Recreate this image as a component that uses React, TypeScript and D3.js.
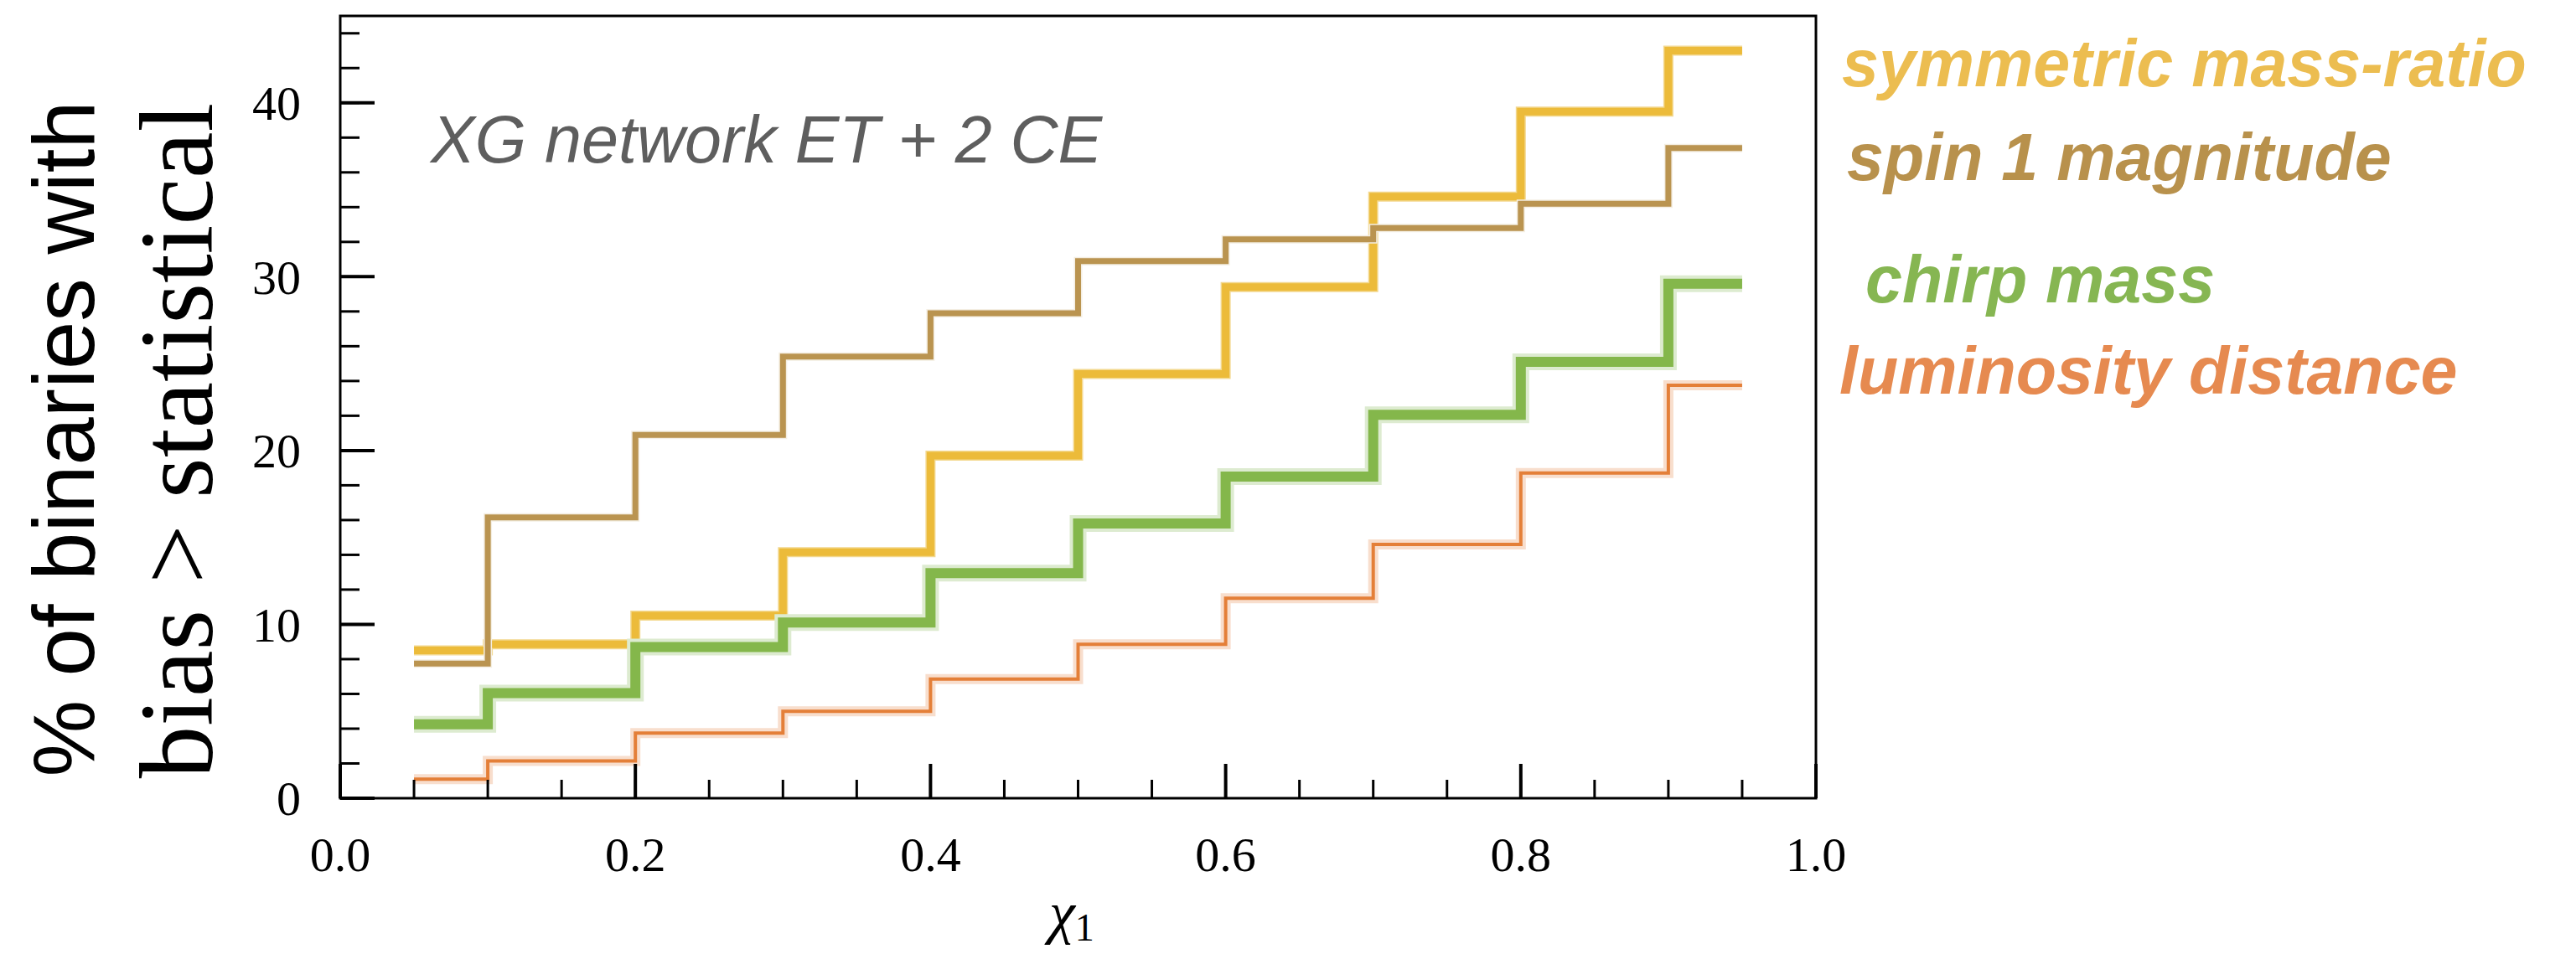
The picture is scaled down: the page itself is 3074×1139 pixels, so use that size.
import React from 'react';
import * as d3 from 'd3';

// Bin centres in chi_1 and the percentage of binaries per bin for each parameter
const chiBins = [0.05, 0.15, 0.25, 0.35, 0.45, 0.55, 0.65, 0.75, 0.85, 0.95];
const symmetricMassRatio = [8.5, 8.85, 10.5, 14.15, 19.7, 24.4, 29.4, 34.6, 39.5, 43.0];
const spin1Magnitude = [7.75, 16.15, 20.9, 25.4, 27.9, 30.9, 32.15, 32.8, 34.2, 37.4];
const chirpMass = [4.25, 6.05, 8.7, 10.1, 12.95, 15.8, 18.5, 22.05, 25.1, 29.6];
const luminosityDistance = [1.1, 2.15, 3.75, 5.0, 6.85, 8.85, 11.5, 14.6, 18.7, 23.75];

const xMajorTicks = [0, 0.2, 0.4, 0.6, 0.8, 1.0];
const xMinorTicks = d3.range(0, 21).map((i) => i * 0.05);
const yMajorTicks = [0, 10, 20, 30, 40];
const yMinorTicks = d3.range(0, 23).map((i) => i * 2);

const seriesNames = ['symmetric mass-ratio', 'spin 1 magnitude', 'chirp mass', 'luminosity distance'];

const W = 3074;
const H = 1139;
const left = 406;
const right = 2167;
const top = 19;
const bottom = 953;

const x = d3.scaleLinear().domain([0, 1]).range([left, right]);
const y = d3.scaleLinear().domain([0, 45]).range([bottom, top]);

const line = d3
  .line<number>()
  .x((_, i) => x(chiBins[i]))
  .y((d) => y(d))
  .curve(d3.curveStep);

const series = [
  { name: seriesNames[0], values: symmetricMassRatio, color: '#EBB933', halo: '#F3D88E', w: 9, hw: 12, op: 0.92, label: '#ECBD50', lx: 2198, ly: 103 },
  { name: seriesNames[1], values: spin1Magnitude, color: '#B68E48', halo: '#F4EEE2', w: 7, hw: 10, op: 0.95, label: '#B8914C', lx: 2204, ly: 215 },
  { name: seriesNames[2], values: chirpMass, color: '#84B74B', halo: '#DDEBD0', w: 12, hw: 20, op: 1, label: '#86B652', lx: 2226, ly: 361 },
  { name: seriesNames[3], values: luminosityDistance, color: '#E47F38', halo: '#F8DECD', w: 4, hw: 12, op: 1, label: '#E68A50', lx: 2195, ly: 470 },
];

export default function App() {
  return (
    <svg
      width={W}
      height={H}
      viewBox={`0 0 ${W} ${H}`}
      style={{ position: 'absolute', left: 0, top: 0, background: '#fff' }}
    >
      <rect x={0} y={0} width={W} height={H} fill="#fff" />

      {/* step lines */}
      {series.map((s) => (
        <g key={s.name}>
          <path d={line(s.values) || ''} fill="none" stroke={s.halo} strokeWidth={s.hw} strokeLinejoin="miter" />
          <path
            d={line(s.values) || ''}
            fill="none"
            stroke={s.color}
            strokeWidth={s.w}
            strokeOpacity={s.op}
            strokeLinejoin="miter"
          />
        </g>
      ))}

      {/* frame */}
      <rect x={left} y={top} width={right - left} height={bottom - top} fill="none" stroke="#000" strokeWidth={3} />

      {/* y ticks */}
      {yMinorTicks.map((v) => (
        <line key={'ym' + v} x1={left} x2={left + 23} y1={y(v)} y2={y(v)} stroke="#000" strokeWidth={3} />
      ))}
      {yMajorTicks.map((v) => (
        <line key={'yM' + v} x1={left} x2={left + 41} y1={y(v)} y2={y(v)} stroke="#000" strokeWidth={4} />
      ))}
      {yMajorTicks.map((v) => (
        <text
          key={'yl' + v}
          x={359}
          y={y(v)}
          dy="0.35em"
          textAnchor="end"
          fontFamily="Liberation Serif"
          fontSize={58}
          fill="#000"
        >
          {v}
        </text>
      ))}

      {/* x ticks */}
      {xMinorTicks.map((v) => (
        <line key={'xm' + v} x1={x(v)} x2={x(v)} y1={bottom} y2={bottom - 22} stroke="#000" strokeWidth={3} />
      ))}
      {xMajorTicks.map((v) => (
        <line key={'xM' + v} x1={x(v)} x2={x(v)} y1={bottom} y2={bottom - 41} stroke="#000" strokeWidth={4} />
      ))}
      {xMajorTicks.map((v) => (
        <text
          key={'xl' + v}
          x={x(v)}
          y={1040}
          textAnchor="middle"
          fontFamily="Liberation Serif"
          fontSize={58}
          fill="#000"
        >
          {d3.format('.1f')(v)}
        </text>
      ))}

      {/* axis titles */}
      <text x={1252} y={1113} fontFamily="Liberation Serif" fontStyle="italic" fontSize={70} fill="#000">
        χ
        <tspan fontStyle="normal" fontSize={46} dy={10}>
          1
        </tspan>
      </text>
      <text
        transform="translate(112,524) rotate(-90)"
        textAnchor="middle"
        fontFamily="Liberation Sans"
        fontSize={103}
        fill="#000"
      >
        % of binaries with
      </text>
      <text
        transform="translate(253,526) rotate(-90)"
        textAnchor="middle"
        fontFamily="Liberation Serif"
        fontSize={125}
        fill="#000"
      >
        bias &gt; statistical
      </text>

      {/* annotation */}
      <text x={514} y={194} fontFamily="Liberation Sans" fontStyle="italic" fontSize={79} fill="#5E5E5E">
        XG network ET + 2 CE
      </text>

      {/* series labels */}
      {series.map((s) => (
        <text
          key={'lab' + s.name}
          x={s.lx}
          y={s.ly}
          fontFamily="Liberation Sans"
          fontStyle="italic"
          fontWeight="bold"
          fontSize={79}
          fill={s.label}
        >
          {s.name}
        </text>
      ))}
    </svg>
  );
}
